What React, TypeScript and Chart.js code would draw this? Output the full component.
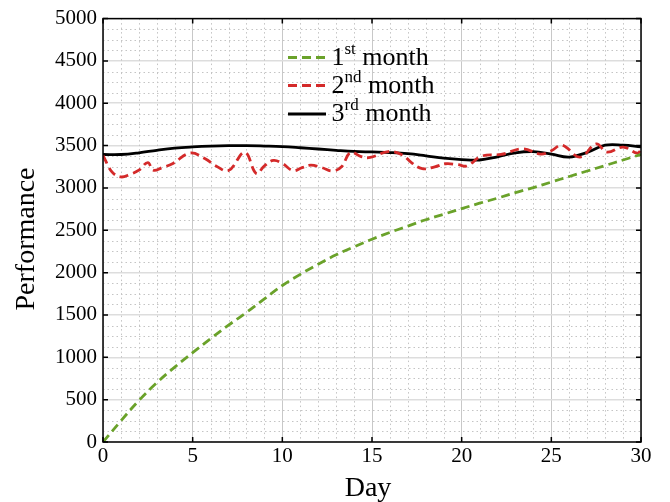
import React, { useEffect, useRef } from 'react';
import { Chart, registerables } from 'chart.js';

Chart.register(...registerables);

// ---- data ----
const days = [0, 1, 2, 3, 4, 5, 6, 7, 8, 9, 10, 11, 12, 13, 14, 15, 16, 17, 18, 19, 20, 21, 22, 23, 24, 25, 26, 27, 28, 29, 30];
const month1 = [0, 250, 490, 700, 885, 1055, 1220, 1380, 1530, 1690, 1848, 1980, 2100, 2210, 2305, 2395, 2475, 2550, 2625, 2690, 2756, 2820, 2880, 2945, 3005, 3070, 3135, 3200, 3265, 3330, 3396];
const month3 = [3395, 3395, 3415, 3445, 3470, 3485, 3495, 3500, 3500, 3495, 3488, 3475, 3460, 3445, 3432, 3425, 3418, 3405, 3380, 3352, 3335, 3330, 3368, 3415, 3430, 3400, 3365, 3420, 3505, 3505, 3485];
const month2Days = [0, 0.5, 1.0, 1.5, 2.0, 2.5, 2.8, 3.3, 3.9, 4.85, 5.7, 6.3, 7.0, 7.9, 8.55, 9.0, 9.5, 10.0, 10.6, 11.1, 11.6, 12.2, 12.8, 13.3, 13.8, 14.4, 14.9, 15.9, 16.7, 17.2, 17.8, 18.5, 19.1, 19.8, 20.3, 21.1, 22.2, 23.4, 24.4, 25.0, 25.6, 26.6, 27.5, 28.1, 29.0, 29.8, 30];
const month2 = [3385, 3190, 3130, 3160, 3210, 3300, 3210, 3240, 3290, 3412, 3345, 3260, 3205, 3420, 3170, 3260, 3325, 3290, 3205, 3240, 3270, 3240, 3200, 3250, 3420, 3370, 3360, 3430, 3390, 3300, 3227, 3250, 3286, 3275, 3260, 3375, 3396, 3463, 3400, 3440, 3505, 3365, 3520, 3424, 3483, 3410, 3450];

const xTicks = [0, 5, 10, 15, 20, 25, 30];
const yTicks = [0, 500, 1000, 1500, 2000, 2500, 3000, 3500, 4000, 4500, 5000];
const legendNums = ['1', '2', '3'];
const legendSups = ['st', 'nd', 'rd'];
const legendWord = 'month';
const xTitle = 'Day';
const yTitle = 'Performance';

const GREEN = '#6aa22a';
const RED = '#d42a2a';
const BLACK = '#000000';
const FONT = "'Liberation Serif', 'Times New Roman', serif";

const decor = {
  id: 'decor',
  beforeDatasetsDraw(chart: any) {
    const { ctx, chartArea: a, scales } = chart;
    const x = scales.x;
    const y = scales.y;
    ctx.save();
    ctx.strokeStyle = '#c4c4c4';
    ctx.lineWidth = 1;
    ctx.setLineDash([1.5, 3]);
    for (let d = 1; d < 30; d++) {
      if (d % 5 === 0) continue;
      const px = Math.round(x.getPixelForValue(d)) + 0.5;
      ctx.beginPath();
      ctx.moveTo(px, a.top);
      ctx.lineTo(px, a.bottom);
      ctx.stroke();
    }
    for (let v = 125; v < 5000; v += 125) {
      if (v % 500 === 0) continue;
      const py = Math.round(y.getPixelForValue(v)) + 0.5;
      ctx.beginPath();
      ctx.moveTo(a.left, py);
      ctx.lineTo(a.right, py);
      ctx.stroke();
    }
    ctx.restore();
  },
  afterDatasetsDraw(chart: any) {
    const { ctx, chartArea: a, scales } = chart;
    const x = scales.x;
    const y = scales.y;
    ctx.save();
    ctx.strokeStyle = '#000';
    ctx.lineWidth = 1.5;
    ctx.setLineDash([]);
    ctx.strokeRect(a.left, a.top, a.right - a.left, a.bottom - a.top);
    const tl = 5;
    ctx.beginPath();
    xTicks.forEach((t) => {
      const px = x.getPixelForValue(t);
      ctx.moveTo(px, a.bottom);
      ctx.lineTo(px, a.bottom - tl);
      ctx.moveTo(px, a.top);
      ctx.lineTo(px, a.top + tl);
    });
    yTicks.forEach((t) => {
      const py = y.getPixelForValue(t);
      ctx.moveTo(a.left, py);
      ctx.lineTo(a.left + tl, py);
      ctx.moveTo(a.right, py);
      ctx.lineTo(a.right - tl, py);
    });
    ctx.stroke();
    ctx.restore();
  },
  afterDraw(chart: any) {
    const { ctx } = chart;
    const ds = chart.data.datasets;
    ctx.save();
    // legend
    const lineY = [57.5, 85.5, 114];
    for (let i = 0; i < 3; i++) {
      const d = ds[i];
      ctx.strokeStyle = d.borderColor;
      ctx.lineWidth = d.borderWidth;
      ctx.setLineDash(d.borderDash || []);
      ctx.beginPath();
      ctx.moveTo(288, lineY[i]);
      ctx.lineTo(326, lineY[i]);
      ctx.stroke();
      ctx.setLineDash([]);
      ctx.fillStyle = '#000';
      ctx.textBaseline = 'alphabetic';
      ctx.textAlign = 'left';
      const base = lineY[i] + 7;
      let tx = 331.5;
      ctx.font = `26px ${FONT}`;
      ctx.fillText(legendNums[i], tx, base);
      tx += ctx.measureText(legendNums[i]).width;
      ctx.font = `17px ${FONT}`;
      ctx.fillText(legendSups[i], tx, base - 11);
      tx += ctx.measureText(legendSups[i]).width;
      ctx.font = `26px ${FONT}`;
      ctx.fillText(' ' + legendWord, tx, base);
    }
    // axis titles
    ctx.font = `28px ${FONT}`;
    ctx.fillStyle = '#000';
    ctx.textAlign = 'center';
    ctx.textBaseline = 'alphabetic';
    ctx.fillText(xTitle, 368, 496);
    ctx.translate(34, 239);
    ctx.rotate(-Math.PI / 2);
    ctx.fillText(yTitle, 0, 0);
    ctx.restore();
  },
};

export default function App() {
  const ref = useRef<HTMLCanvasElement | null>(null);
  useEffect(() => {
    if (!ref.current) return;
    const chart = new Chart(ref.current, {
      type: 'line',
      data: {
        datasets: [
          {
            label: '1st month',
            data: days.map((d, i) => ({ x: d, y: month1[i] })),
            borderColor: GREEN,
            borderWidth: 2.8,
            borderDash: [9, 5],
            pointRadius: 0,
            tension: 0.4,
            fill: false,
          },
          {
            label: '2nd month',
            data: month2Days.map((d, i) => ({ x: d, y: month2[i] })),
            borderColor: RED,
            borderWidth: 2.8,
            borderDash: [9, 5],
            pointRadius: 0,
            tension: 0.4,
            fill: false,
          },
          {
            label: '3rd month',
            data: days.map((d, i) => ({ x: d, y: month3[i] })),
            borderColor: BLACK,
            borderWidth: 2.8,
            pointRadius: 0,
            tension: 0.4,
            fill: false,
          },
        ],
      },
      options: {
        responsive: false,
        animation: false,
        devicePixelRatio: 1,
        layout: { padding: { top: 18, right: 29, left: 0, bottom: 0 } },
        plugins: { legend: { display: false }, tooltip: { enabled: false } },
        scales: {
          x: {
            type: 'linear',
            min: 0,
            max: 30,
            afterFit: (s: any) => { s.height = 60; },
            afterBuildTicks: (s: any) => { s.ticks = xTicks.map((v) => ({ value: v })); },
            ticks: { color: '#000', font: { family: FONT, size: 21 }, padding: 2, maxRotation: 0, callback: (v: any) => String(v) },
            grid: { color: '#c8c8c8', lineWidth: 1, drawTicks: false },
            border: { display: false },
          },
          y: {
            type: 'linear',
            min: 0,
            max: 5000,
            afterFit: (s: any) => { s.width = 103; },
            afterBuildTicks: (s: any) => { s.ticks = yTicks.map((v) => ({ value: v })); },
            ticks: { color: '#000', font: { family: FONT, size: 21 }, padding: 6, callback: (v: any) => String(v) },
            grid: { color: '#dddddd', lineWidth: 1.6, drawTicks: false },
            border: { display: false },
          },
        },
      },
      plugins: [decor],
    } as any);
    return () => chart.destroy();
  }, []);
  return (
    <div style={{ position: 'fixed', left: 0, top: 0, width: 670, height: 502, background: '#fff' }}>
      <canvas ref={ref} width={670} height={502} style={{ width: 670, height: 502, display: 'block' }} />
    </div>
  );
}
